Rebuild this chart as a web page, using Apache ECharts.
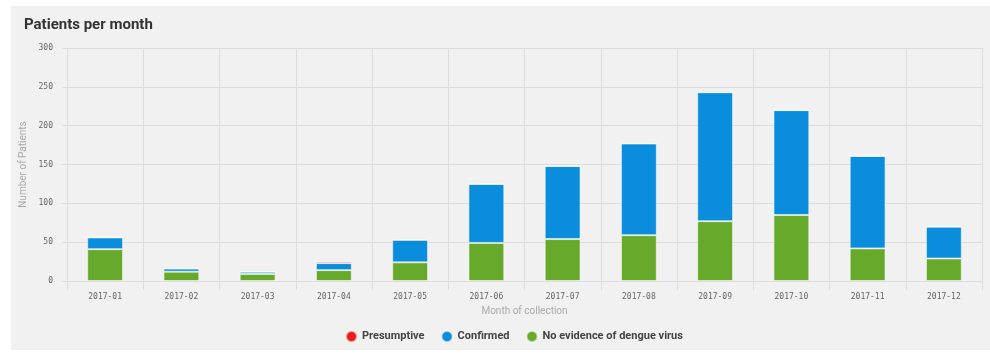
<!DOCTYPE html>
<html>
<head>
<meta charset="utf-8">
<script src="https://cdn.jsdelivr.net/npm/echarts@6/dist/echarts.min.js"></script>
<style>
html,body{margin:0;padding:0;background:#fff;}
#chart{width:990px;height:354px;}
</style>
</head>
<body>
<div id="chart"></div>
<script>
const categories = ['2017-01','2017-02','2017-03','2017-04','2017-05','2017-06','2017-07','2017-08','2017-09','2017-10','2017-11','2017-12'];
const noEvidence = [41, 12, 9, 14, 24, 49, 54, 59, 77, 85, 42, 29];
const confirmed  = [15, 4, 3, 9, 29, 76, 94, 118, 166, 135, 119, 41];
const presumptive = [1, 0, 0, 2, 0, 0, 0, 0, 0, 0, 0, 0];
const yTicks = [0, 50, 100, 150, 200, 250, 300];

const chart = echarts.init(document.getElementById('chart'), null, {renderer:'canvas'});
const gridColor = '#dcdcdc';
const barBorder = {borderColor:'rgba(255,255,255,0.55)', borderWidth:1};
chart.setOption({
  animation:false,
  backgroundColor:'#ffffff',
  graphic:[{type:'rect', shape:{x:11,y:6,width:979,height:344}, style:{fill:'#f1f1f1'}, z:-10, silent:true}],
  title:{text:'Patients per month', left:19, top:13, textStyle:{fontFamily:'Roboto', fontWeight:'bold', fontSize:15, color:'#333'}},
  legend:{
    data:['Presumptive','Confirmed','No evidence of dengue virus'],
    bottom:6, left:340, icon:'circle', itemWidth:11, itemHeight:11, itemGap:16,
    textStyle:{fontFamily:'Roboto', fontWeight:'bold', fontSize:11, color:'#444'}
  },
  grid:{left:67, right:8, top:48, bottom:73},
  xAxis:{
    type:'category', data:categories,
    name:'Month of collection', nameLocation:'middle', nameGap:25, nameMoveOverlap:false,
    nameTextStyle:{fontFamily:'Roboto', fontSize:10, color:'#aaa'},
    axisLine:{show:true, lineStyle:{color:gridColor}},
    axisTick:{show:true, length:9, lineStyle:{color:gridColor}},
    axisLabel:{fontFamily:'DejaVu Sans Mono', fontSize:8, color:'#666', margin:12},
    splitLine:{show:true, lineStyle:{color:gridColor}}
  },
  yAxis:{
    type:'value', min:0, max:300, interval:50,
    name:'Number of Patients', nameLocation:'middle', nameGap:39, nameMoveOverlap:false,
    nameTextStyle:{fontFamily:'Roboto', fontSize:10, color:'#aaa'},
    axisLine:{show:false},
    axisTick:{show:true, length:5, lineStyle:{color:gridColor}},
    axisLabel:{fontFamily:'DejaVu Sans Mono', fontSize:8, color:'#666', margin:14,
      formatter:function(v){return yTicks.indexOf(v)>=0 ? String(v) : '';}},
    splitLine:{show:true, lineStyle:{color:gridColor}}
  },
  series:[
    {name:'No evidence of dengue virus', type:'bar', stack:'a', data:noEvidence, barWidth:'47%', itemStyle:Object.assign({color:'#67a92a'}, barBorder)},
    {name:'Confirmed', type:'bar', stack:'a', data:confirmed, itemStyle:Object.assign({color:'#0a8ddd'}, barBorder)},
    {name:'Presumptive', type:'bar', stack:'a', data:presumptive, itemStyle:Object.assign({color:'#f21a1a'}, barBorder)}
  ]
});
</script>
</body>
</html>
